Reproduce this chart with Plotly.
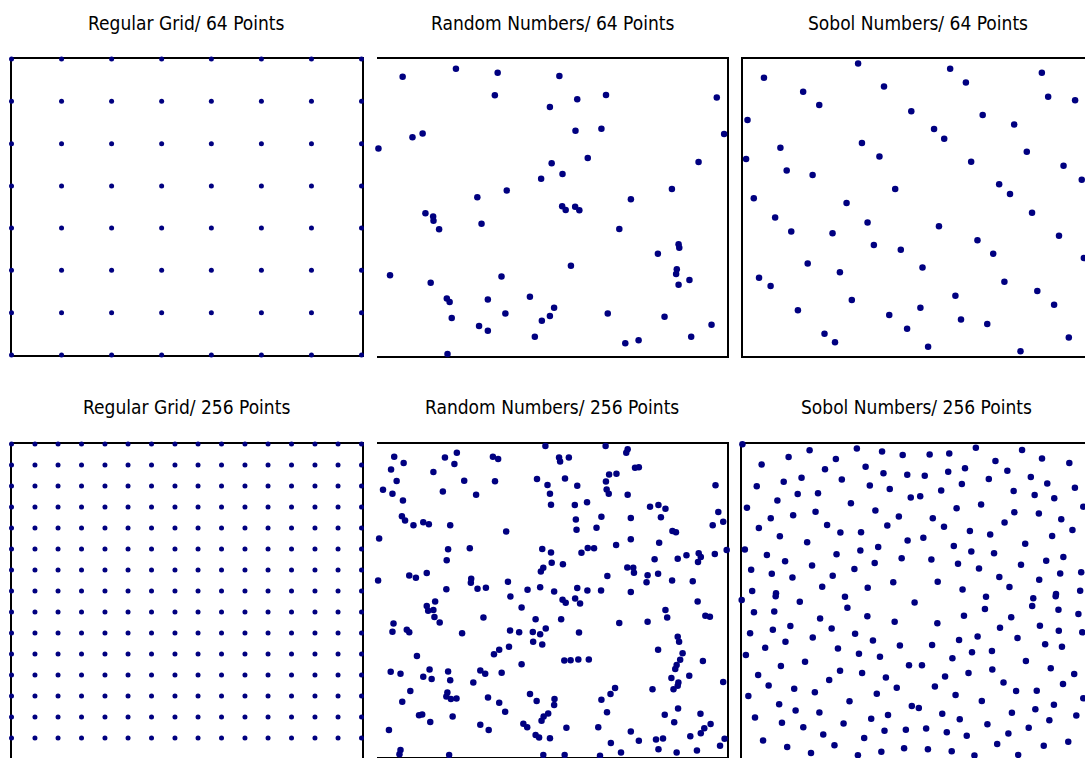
import itertools
import plotly.graph_objects as go

W, H = 1085, 758
NAVY = "#000080"
TITLE_FONT = "Liberation Sans Narrow, Arial Narrow, DejaVu Sans Condensed, sans-serif"

# Regular grid levels along each side
grid_64_levels = [0.0, 0.143, 0.286, 0.429, 0.571, 0.714, 0.857, 1.0]
grid_256_levels = [0.0, 0.067, 0.133, 0.2, 0.267, 0.333, 0.4, 0.467,
                   0.533, 0.6, 0.667, 0.733, 0.8, 0.867, 0.933, 1.0]

# Pseudo-random points, 64 of them
random_64 = [
    (0.074, 0.940), (0.226, 0.967), (0.345, 0.954), (0.521, 0.943), (0.337, 0.878),
    (0.572, 0.864), (0.654, 0.879), (0.970, 0.870), (0.494, 0.838), (0.102, 0.736),
    (0.131, 0.749), (0.567, 0.758), (0.641, 0.765), (0.991, 0.747), (0.005, 0.698),
    (0.602, 0.666), (0.499, 0.649), (0.918, 0.653), (0.530, 0.612), (0.469, 0.596),
    (0.371, 0.557), (0.287, 0.534), (0.842, 0.562), (0.725, 0.527), (0.529, 0.504),
    (0.539, 0.491), (0.566, 0.502), (0.578, 0.490), (0.139, 0.480), (0.161, 0.469),
    (0.162, 0.455), (0.299, 0.445), (0.178, 0.426), (0.692, 0.427), (0.861, 0.376),
    (0.863, 0.364), (0.802, 0.344), (0.554, 0.303), (0.856, 0.291), (0.854, 0.275),
    (0.892, 0.255), (0.861, 0.239), (0.038, 0.271), (0.356, 0.267), (0.154, 0.246),
    (0.200, 0.193), (0.208, 0.181), (0.317, 0.189), (0.437, 0.199), (0.506, 0.162),
    (0.367, 0.142), (0.494, 0.134), (0.471, 0.118), (0.214, 0.127), (0.659, 0.142),
    (0.821, 0.131), (0.955, 0.104), (0.292, 0.100), (0.317, 0.084), (0.451, 0.064),
    (0.897, 0.064), (0.709, 0.042), (0.747, 0.052), (0.202, 0.006),
]

# Sobol sequence points, 64 of them
sobol_64 = [
    (0.328, 0.985), (0.059, 0.937), (0.591, 0.967), (0.853, 0.954), (0.402, 0.907),
    (0.636, 0.921), (0.171, 0.890), (0.217, 0.845), (0.871, 0.873), (0.948, 0.861),
    (0.480, 0.824), (0.684, 0.811), (0.012, 0.794), (0.774, 0.779), (0.545, 0.764),
    (0.574, 0.731), (0.339, 0.717), (0.106, 0.701), (0.810, 0.687), (0.389, 0.671),
    (0.008, 0.663), (0.651, 0.654), (0.915, 0.640), (0.124, 0.624), (0.198, 0.609),
    (0.967, 0.593), (0.731, 0.578), (0.434, 0.562), (0.762, 0.545), (0.030, 0.531),
    (0.295, 0.515), (0.825, 0.482), (0.091, 0.466), (0.355, 0.449), (0.559, 0.436),
    (0.137, 0.419), (0.255, 0.413), (0.902, 0.404), (0.669, 0.389), (0.373, 0.373),
    (0.450, 0.357), (0.714, 0.344), (0.973, 0.329), (0.184, 0.311), (0.512, 0.297),
    (0.276, 0.281), (0.045, 0.263), (0.078, 0.235), (0.746, 0.249), (0.840, 0.218),
    (0.606, 0.202), (0.310, 0.188), (0.888, 0.172), (0.506, 0.162), (0.156, 0.153),
    (0.417, 0.137), (0.622, 0.122), (0.697, 0.107), (0.468, 0.091), (0.232, 0.074),
    (0.930, 0.061), (0.262, 0.045), (0.528, 0.030), (0.792, 0.015),
]

# Pseudo-random points, 256 sample
random_256 = [
    (0.482, 0.994), (0.229, 0.972), (0.050, 0.959), (0.195, 0.957), (0.332, 0.959),
    (0.347, 0.952), (0.077, 0.939), (0.222, 0.936), (0.041, 0.919), (0.162, 0.911),
    (0.057, 0.882), (0.250, 0.883), (0.338, 0.881), (0.458, 0.888), (0.488, 0.869),
    (0.018, 0.854), (0.045, 0.841), (0.189, 0.848), (0.284, 0.838), (0.495, 0.841),
    (0.075, 0.820), (0.498, 0.806), (0.072, 0.769), (0.081, 0.756), (0.105, 0.741),
    (0.133, 0.750), (0.149, 0.744), (0.210, 0.741), (0.370, 0.721), (0.007, 0.698),
    (0.204, 0.664), (0.266, 0.667), (0.473, 0.665), (0.498, 0.654), (0.200, 0.629),
    (0.500, 0.621), (0.476, 0.605), (0.469, 0.593), (0.093, 0.580), (0.112, 0.573),
    (0.143, 0.588), (0.004, 0.564), (0.270, 0.570), (0.269, 0.557), (0.375, 0.560),
    (0.199, 0.536), (0.288, 0.538), (0.312, 0.541), (0.431, 0.535), (0.467, 0.543),
    (0.507, 0.529),
    (0.654, 0.994), (0.717, 0.983), (0.713, 0.972), (0.521, 0.957), (0.524, 0.944),
    (0.549, 0.957), (0.738, 0.924), (0.749, 0.926), (0.664, 0.903), (0.685, 0.905),
    (0.655, 0.880), (0.538, 0.890), (0.573, 0.867), (0.657, 0.855), (0.663, 0.841),
    (0.717, 0.838), (0.968, 0.868), (0.566, 0.805), (0.601, 0.814), (0.781, 0.800),
    (0.805, 0.805), (0.825, 0.793), (0.976, 0.783), (0.642, 0.768), (0.569, 0.759),
    (0.726, 0.764), (0.812, 0.766), (0.628, 0.733), (0.571, 0.726), (0.960, 0.741),
    (0.990, 0.752), (0.845, 0.722), (0.855, 0.718), (0.726, 0.696), (0.684, 0.678),
    (0.807, 0.685), (0.603, 0.668), (0.621, 0.667), (0.585, 0.653), (1.000, 0.662),
    (0.885, 0.645), (0.920, 0.651), (0.926, 0.639), (0.918, 0.623), (0.966, 0.649),
    (0.794, 0.632), (0.860, 0.634), (0.532, 0.616), (0.716, 0.606), (0.733, 0.605),
    (0.735, 0.589), (0.659, 0.579), (0.774, 0.581), (0.771, 0.559), (0.804, 0.586),
    (0.844, 0.564), (0.903, 0.562), (0.573, 0.540), (0.602, 0.532), (0.641, 0.532),
    (0.726, 0.528),
    (0.382, 0.513), (0.167, 0.497), (0.143, 0.483), (0.147, 0.468), (0.162, 0.470),
    (0.165, 0.448), (0.180, 0.430), (0.414, 0.478), (0.454, 0.441), (0.305, 0.446),
    (0.048, 0.427), (0.045, 0.401), (0.086, 0.407), (0.093, 0.399), (0.244, 0.396),
    (0.381, 0.405), (0.407, 0.399), (0.446, 0.400), (0.467, 0.393), (0.483, 0.411),
    (0.447, 0.369), (0.473, 0.360), (0.378, 0.353), (0.350, 0.343), (0.335, 0.329),
    (0.115, 0.323), (0.414, 0.297), (0.040, 0.273), (0.068, 0.267), (0.151, 0.280),
    (0.133, 0.257), (0.157, 0.250), (0.204, 0.274), (0.210, 0.246), (0.296, 0.277),
    (0.310, 0.267), (0.357, 0.270), (0.276, 0.239), (0.096, 0.212), (0.202, 0.207),
    (0.199, 0.194), (0.212, 0.186), (0.228, 0.188), (0.073, 0.177), (0.318, 0.191),
    (0.350, 0.174), (0.438, 0.202), (0.457, 0.180), (0.367, 0.145), (0.121, 0.134),
    (0.130, 0.137), (0.153, 0.113), (0.217, 0.130), (0.296, 0.104), (0.320, 0.087),
    (0.035, 0.087), (0.419, 0.107), (0.430, 0.096), (0.471, 0.117), (0.477, 0.130),
    (0.490, 0.140), (0.454, 0.071), (0.464, 0.063), (0.495, 0.061), (0.068, 0.023),
    (0.065, 0.010), (0.207, 0.007), (0.476, 0.007),
    (0.531, 0.503), (0.540, 0.493), (0.567, 0.507), (0.581, 0.491), (0.917, 0.497),
    (0.825, 0.470), (0.830, 0.446), (0.939, 0.452), (0.952, 0.449), (0.527, 0.441),
    (0.693, 0.429), (0.774, 0.433), (0.578, 0.398), (0.860, 0.385), (0.864, 0.369),
    (0.804, 0.343), (0.874, 0.332), (0.536, 0.309), (0.554, 0.310), (0.576, 0.312),
    (0.606, 0.312), (0.867, 0.311), (0.857, 0.295), (0.853, 0.282), (0.932, 0.307),
    (0.893, 0.260), (0.842, 0.253), (0.862, 0.239), (0.848, 0.217), (0.860, 0.228),
    (0.990, 0.240), (0.681, 0.221), (0.668, 0.202), (0.788, 0.217), (0.642, 0.184),
    (0.508, 0.186), (0.507, 0.167), (0.658, 0.144), (0.823, 0.136), (0.861, 0.156),
    (0.925, 0.139), (0.850, 0.112), (0.542, 0.094), (0.633, 0.096), (0.726, 0.082),
    (0.669, 0.046), (0.749, 0.053), (0.798, 0.057), (0.818, 0.060), (0.896, 0.067),
    (0.926, 0.077), (0.936, 0.093), (0.954, 0.106), (0.994, 0.059), (0.805, 0.026),
    (0.698, 0.015), (0.638, 0.005), (0.537, 0.007), (0.857, 0.015), (0.915, 0.022),
    (0.981, 0.037),
]

# Sobol sequence points, 256 sample
sobol_256 = [
    (0.002, 0.999), (0.194, 0.980), (0.329, 0.986), (0.401, 0.976), (0.460, 0.965),
    (0.134, 0.959), (0.057, 0.935), (0.269, 0.952), (0.354, 0.928), (0.238, 0.920),
    (0.405, 0.907), (0.473, 0.902), (0.171, 0.893), (0.286, 0.887), (0.120, 0.880),
    (0.043, 0.866), (0.366, 0.868), (0.423, 0.857), (0.160, 0.841), (0.218, 0.844),
    (0.483, 0.830), (0.102, 0.821), (0.312, 0.812), (0.015, 0.798), (0.382, 0.789),
    (0.211, 0.785), (0.147, 0.774), (0.083, 0.764), (0.449, 0.770), (0.244, 0.743),
    (0.049, 0.733), (0.416, 0.741), (0.282, 0.719), (0.341, 0.720), (0.109, 0.707),
    (0.187, 0.688), (0.474, 0.694), (0.009, 0.665), (0.390, 0.673), (0.339, 0.662),
    (0.072, 0.648), (0.271, 0.650), (0.124, 0.628), (0.457, 0.637), (0.380, 0.622),
    (0.027, 0.601), (0.201, 0.614), (0.086, 0.588), (0.322, 0.603), (0.260, 0.582),
    (0.145, 0.576), (0.433, 0.561), (0.230, 0.547), (0.360, 0.544), (0.030, 0.533),
    (0.098, 0.526),
    (0.669, 0.988), (0.801, 0.981), (0.537, 0.967), (0.593, 0.970), (0.725, 0.946),
    (0.858, 0.954), (0.936, 0.940), (0.638, 0.923), (0.590, 0.912), (0.759, 0.915),
    (0.523, 0.899), (0.706, 0.889), (0.826, 0.895), (0.873, 0.875), (0.629, 0.873),
    (0.952, 0.861), (0.570, 0.852), (0.777, 0.851), (0.837, 0.838), (0.893, 0.828),
    (0.510, 0.834), (0.684, 0.808), (0.614, 0.796), (0.976, 0.801), (0.779, 0.783),
    (0.849, 0.779), (0.546, 0.764), (0.751, 0.751), (0.913, 0.761), (0.578, 0.737),
    (0.652, 0.724), (0.945, 0.727), (0.710, 0.713), (0.519, 0.702), (0.887, 0.708),
    (0.810, 0.683), (0.606, 0.676), (0.656, 0.659), (0.721, 0.653), (0.919, 0.641),
    (0.542, 0.633), (0.870, 0.629), (0.618, 0.620), (0.798, 0.617), (0.678, 0.605),
    (0.910, 0.589), (0.970, 0.593), (0.560, 0.563), (0.736, 0.578), (0.850, 0.569),
    (0.631, 0.538), (0.765, 0.546), (0.898, 0.524), (0.967, 0.534),
    (0.000, 0.505), (0.097, 0.517), (0.166, 0.499), (0.295, 0.515), (0.302, 0.480),
    (0.035, 0.466), (0.093, 0.468), (0.224, 0.446), (0.359, 0.453), (0.437, 0.436),
    (0.024, 0.399), (0.089, 0.410), (0.139, 0.422), (0.257, 0.414), (0.324, 0.398),
    (0.203, 0.386), (0.125, 0.372), (0.375, 0.376), (0.452, 0.360), (0.067, 0.353),
    (0.275, 0.351), (0.335, 0.334), (0.012, 0.330), (0.395, 0.325), (0.181, 0.309),
    (0.112, 0.295), (0.478, 0.298), (0.047, 0.267), (0.281, 0.280), (0.344, 0.273),
    (0.250, 0.251), (0.412, 0.259), (0.077, 0.233), (0.150, 0.223), (0.443, 0.226),
    (0.209, 0.212), (0.386, 0.207), (0.019, 0.200), (0.107, 0.174), (0.308, 0.183),
    (0.154, 0.154), (0.222, 0.148), (0.038, 0.132), (0.418, 0.140), (0.370, 0.128),
    (0.115, 0.115), (0.291, 0.113), (0.176, 0.101), (0.233, 0.078), (0.350, 0.067),
    (0.408, 0.090), (0.469, 0.093), (0.061, 0.059), (0.265, 0.044), (0.130, 0.038),
    (0.198, 0.019), (0.332, 0.012), (0.399, 0.023), (0.464, 0.034),
    (0.494, 0.497), (0.698, 0.515), (0.833, 0.510), (0.897, 0.517), (0.830, 0.486),
    (0.695, 0.476), (0.905, 0.474), (0.962, 0.460), (0.635, 0.455), (0.770, 0.450),
    (0.559, 0.431), (0.852, 0.423), (0.738, 0.417), (0.906, 0.407), (0.973, 0.402),
    (0.674, 0.389), (0.788, 0.384), (0.621, 0.378), (0.867, 0.364), (0.915, 0.356),
    (0.544, 0.362), (0.658, 0.339), (0.715, 0.343), (0.602, 0.320), (0.812, 0.311),
    (0.515, 0.298), (0.883, 0.288), (0.716, 0.284), (0.648, 0.273), (0.950, 0.270),
    (0.581, 0.262), (0.748, 0.243), (0.918, 0.238), (0.552, 0.230), (0.784, 0.216),
    (0.843, 0.217), (0.611, 0.203), (0.686, 0.184), (0.976, 0.193), (0.486, 0.168),
    (0.506, 0.162), (0.892, 0.172), (0.839, 0.158), (0.573, 0.144), (0.772, 0.147),
    (0.623, 0.126), (0.956, 0.138), (0.879, 0.123), (0.702, 0.110), (0.527, 0.097),
    (0.586, 0.085), (0.820, 0.099), (0.762, 0.081), (0.643, 0.074), (0.933, 0.055),
    (0.730, 0.048), (0.863, 0.042), (0.532, 0.031), (0.600, 0.025), (0.665, 0.011),
    (0.790, 0.013),
]

titles = [
    "Regular Grid/ 64 Points", "Random Numbers/ 64 Points", "Sobol Numbers/ 64 Points",
    "Regular Grid/ 256 Points", "Random Numbers/ 256 Points", "Sobol Numbers/ 256 Points",
]

grid_64 = list(itertools.product(grid_64_levels, grid_64_levels))
grid_256 = list(itertools.product(grid_256_levels, grid_256_levels))

# panel frames in pixels: left, right, top, bottom; which frame sides are drawn
panels = [
    dict(pts=grid_64, box=(11.5, 361.5, 59, 355), size=5, sides="lrtb"),
    dict(pts=random_64, box=(376.7, 727.3, 59, 355.7), size=6.5, sides="rtb"),
    dict(pts=sobol_64, box=(743.3, 1093.3, 59, 355.7), size=6.5, sides="ltb"),
    dict(pts=grid_256, box=(11.5, 361.5, 444, 759), size=5, sides="lrt"),
    dict(pts=random_256, box=(376.7, 726.7, 444, 757.3), size=6.5, sides="rtb"),
    dict(pts=sobol_256, box=(741.7, 1091.7, 444, 759), size=6.5, sides="lt"),
]

fig = go.Figure()
layout = {}
annotations = []

for i, (p, title) in enumerate(zip(panels, titles), start=1):
    l, r, t, b = p["box"]
    xr = [0.0, 1.0]
    yr = [0.0, 1.0]
    if r > W:
        xr[1] = (W - l) / (r - l)
        r = W
    if b > H:
        yr[0] = (b - H) / (b - t)
        b = H
    xdom = [l / W, r / W]
    ydom = [(H - b) / H, (H - t) / H]

    sides = p["sides"]
    xa = dict(domain=xdom, range=xr, showgrid=False, zeroline=False,
              showticklabels=False, ticks="", linecolor="black", linewidth=2,
              layer="below traces", fixedrange=True)
    ya = dict(domain=ydom, range=yr, showgrid=False, zeroline=False,
              showticklabels=False, ticks="", linecolor="black", linewidth=2,
              layer="below traces", fixedrange=True)
    if "t" in sides and "b" in sides:
        xa.update(showline=True, mirror=True)
    elif "t" in sides:
        xa.update(showline=True, side="top")
    if "l" in sides and "r" in sides:
        ya.update(showline=True, mirror=True)
    elif "r" in sides:
        ya.update(showline=True, side="right")
    elif "l" in sides:
        ya.update(showline=True)

    suffix = "" if i == 1 else str(i)
    layout[f"xaxis{suffix}"] = dict(xa, anchor=f"y{suffix}")
    layout[f"yaxis{suffix}"] = dict(ya, anchor=f"x{suffix}")

    xs = [pt[0] for pt in p["pts"]]
    ys = [pt[1] for pt in p["pts"]]
    fig.add_trace(go.Scatter(
        x=xs, y=ys, mode="markers", xaxis=f"x{suffix}", yaxis=f"y{suffix}",
        marker=dict(size=p["size"], color=NAVY, line=dict(width=0)),
        cliponaxis=False, hoverinfo="skip", showlegend=False,
    ))

    cx = (p["box"][0] + p["box"][1]) / 2 if p["box"][1] <= W else (p["box"][0] + 175)
    ty = 23 if i <= 3 else 407
    annotations.append(dict(
        text=title, x=cx / W, y=(H - ty) / H, xref="paper", yref="paper",
        xanchor="center", yanchor="middle", showarrow=False,
        font=dict(family=TITLE_FONT, size=19, color="black"),
    ))

fig.update_layout(
    width=W, height=H, margin=dict(l=0, r=0, t=0, b=0),
    paper_bgcolor="white", plot_bgcolor="white",
    annotations=annotations, **layout,
)

fig.write_html("out.html", config={"displayModeBar": False})
